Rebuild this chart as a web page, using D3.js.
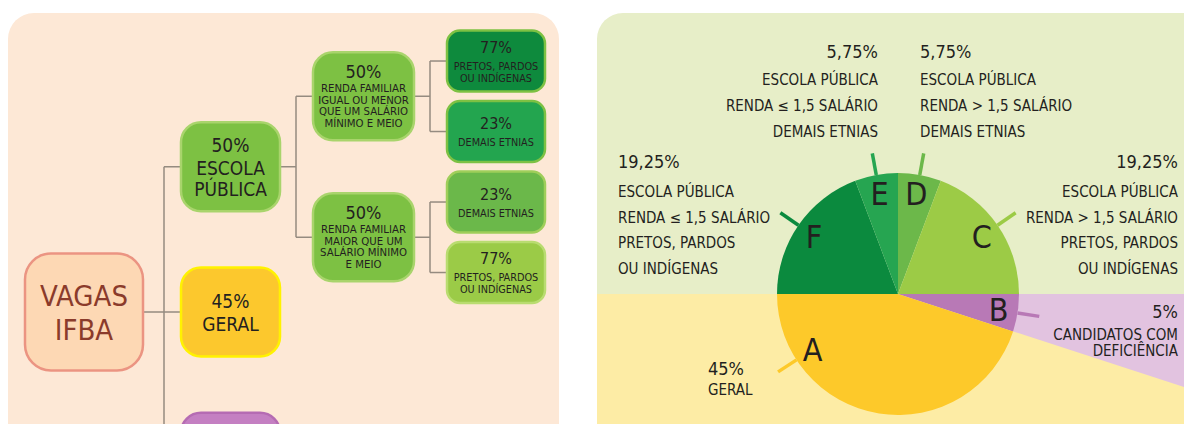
<!DOCTYPE html>
<html>
<head>
<meta charset="utf-8">
<script src="https://cdn.jsdelivr.net/npm/d3@7"></script>
<style>
body { margin: 0; background: #fff; }
svg { display: block; }
</style>
</head>
<body>
<svg width="1184" height="424"></svg>
<script>
// ---- data: tree of IFBA vacancies ----
let rootLabel = ["VAGAS", "IFBA"];
let quotaLabels = [
	["50%", "ESCOLA", "PÚBLICA"],
	["45%", "GERAL"],
	["5%", "CANDIDATOS COM", "DEFICIÊNCIA"]
];
let incomeLabels = [
	["50%", "RENDA FAMILIAR", "IGUAL OU MENOR", "QUE UM SALÁRIO", "MÍNIMO E MEIO"],
	["50%", "RENDA FAMILIAR", "MAIOR QUE UM", "SALÁRIO MÍNIMO", "E MEIO"]
];
let ethnicLabels = [
	[["77%", "PRETOS, PARDOS", "OU INDÍGENAS"], ["23%", "DEMAIS ETNIAS"]],
	[["23%", "DEMAIS ETNIAS"], ["77%", "PRETOS, PARDOS", "OU INDÍGENAS"]]
];

// ---- data: pie of the whole ----
let sliceKeys = ["D", "C", "B", "A", "F", "E"];
let sliceValues = [5.75, 19.25, 5, 45, 19.25, 5.75];
let slicePercents = ["5,75%", "19,25%", "5%", "45%", "19,25%", "5,75%"];
let sliceTexts = [
	["ESCOLA PÚBLICA", "RENDA > 1,5 SALÁRIO", "DEMAIS ETNIAS"],
	["ESCOLA PÚBLICA", "RENDA > 1,5 SALÁRIO", "PRETOS, PARDOS", "OU INDÍGENAS"],
	["CANDIDATOS COM", "DEFICIÊNCIA"],
	["GERAL"],
	["ESCOLA PÚBLICA", "RENDA ≤ 1,5 SALÁRIO", "PRETOS, PARDOS", "OU INDÍGENAS"],
	["ESCOLA PÚBLICA", "RENDA ≤ 1,5 SALÁRIO", "DEMAIS ETNIAS"]
];

let font = "'DejaVu Sans Condensed', 'Liberation Sans Narrow', 'DejaVu Sans', sans-serif";
let ink = "#231f20";

let svg = d3.select("svg");

// =============== left panel: tree ===============
svg.append("rect")
	.attr("x", 8).attr("y", 13).attr("width", 551).attr("height", 440)
	.attr("rx", 26).attr("fill", "#fde8d6");

let treeData = {
	label: rootLabel, kind: "root",
	children: quotaLabels.map((q, i) => ({
		label: q, kind: ["public", "general", "disabled"][i],
		children: i === 0 ? incomeLabels.map((inc, j) => ({
			label: inc, kind: "income",
			children: ethnicLabels[j].map((l, k) => ({label: l, kind: "eth" + j + k}))
		})) : undefined
	}))
};

let boxStyle = {
	root:     {fill: "#fdd8b4", stroke: "#eb9482"},
	public:   {fill: "#7dc143", stroke: "#a9d46c"},
	general:  {fill: "#fcc82d", stroke: "#fff200"},
	disabled: {fill: "#c47fc2", stroke: "#b56bb3"},
	income:   {fill: "#7dc143", stroke: "#a9d46c"},
	eth00:    {fill: "#0e8a3d", stroke: "#7dc143"},
	eth01:    {fill: "#23a54f", stroke: "#7dc143"},
	eth10:    {fill: "#6bb84a", stroke: "#9fce5a"},
	eth11:    {fill: "#9bcb47", stroke: "#b9dc70"}
};

// per depth: box geometry and text setup
let depthLeft = [25, 181, 313, 447];
let depthW = [118, 99, 101, 98];
let depthH = [117, 89, 88, 61];
let depthR = [26, 20, 20, 13];
let depthText = [
	{s0: 29, s1: 29, gap: 34, lh: 34, cap0: 21},
	{s0: 19, s1: 19, gap: 23, lh: 21, cap0: 14},
	{s0: 18, s1: 11.3, gap: 13.5, lh: 11.7, cap0: 13},
	{s0: 16, s1: 10.8, gap: 17, lh: 12, cap0: 12}
];

let root = d3.hierarchy(treeData);
d3.tree().nodeSize([70.5, 1])
	.separation((a, b) => a.depth === 1 ? 2.06 : 1)(root);

let y = d3.scaleLinear().domain([0, 1]).range([312, 313]);
root.each(d => { d.cy = y(d.x); });

let linkG = svg.append("g")
	.attr("fill", "none").attr("stroke", "#958b80").attr("stroke-width", 1.5);

root.each(d => {
	if (!d.children) return;
	let px = depthLeft[d.depth] + depthW[d.depth];
	let cl = depthLeft[d.depth + 1];
	let ex = cl - 17;
	let first = d.children[0].cy, last = d.children[d.children.length - 1].cy;
	linkG.append("path").attr("d", `M${px},${d.cy}H${ex}M${ex},${first}V${last}`);
	d.children.forEach(c => {
		linkG.append("path").attr("d", `M${ex},${c.cy}H${cl}`);
	});
});

let node = svg.append("g").selectAll("g").data(root.descendants()).join("g");

node.append("rect")
	.attr("x", d => depthLeft[d.depth])
	.attr("y", d => d.cy - depthH[d.depth] / 2)
	.attr("width", d => depthW[d.depth])
	.attr("height", d => depthH[d.depth])
	.attr("rx", d => depthR[d.depth])
	.attr("fill", d => boxStyle[d.data.kind].fill)
	.attr("stroke", d => boxStyle[d.data.kind].stroke)
	.attr("stroke-width", 2.5);

node.each(function(d) {
	let t = depthText[d.depth];
	let lines = d.data.label;
	let n = lines.length;
	let span = t.cap0 + (n > 1 ? t.gap + (n - 2) * t.lh : 0);
	let b0 = d.cy - span / 2 + t.cap0;
	let cx = depthLeft[d.depth] + depthW[d.depth] / 2;
	let g = d3.select(this);
	lines.forEach((line, i) => {
		g.append("text")
			.attr("x", cx)
			.attr("y", i === 0 ? b0 : b0 + t.gap + (i - 1) * t.lh)
			.attr("text-anchor", "middle")
			.attr("font-family", font)
			.attr("font-size", i === 0 ? t.s0 : (d.data.kind === "disabled" ? 13 : t.s1))
			.attr("fill", d.depth === 0 ? "#8b3b2b" : ink)
			.text(line);
	});
});

// =============== right panel: pie ===============
let cx = 898, cy = 294, radius = 121;
let sliceColors = {D: "#6cb84a", C: "#9ccb46", B: "#b879b6", A: "#fdc92a", F: "#0b8a3e", E: "#26a551"};

let pie = d3.pie().sort(null).value(d => d.value);
let slices = sliceKeys.map((k, i) => ({
	key: k, value: sliceValues[i], pct: slicePercents[i], text: sliceTexts[i]
}));
let arcs = pie(slices);

svg.append("clipPath").attr("id", "panel")
	.append("rect")
	.attr("x", 597).attr("y", 13).attr("width", 620).attr("height", 440).attr("rx", 26);

let bg = svg.append("g").attr("clip-path", "url(#panel)");
bg.append("rect").attr("x", 597).attr("y", 13).attr("width", 620).attr("height", cy - 13).attr("fill", "#e7eec8");
bg.append("rect").attr("x", 597).attr("y", cy).attr("width", 620).attr("height", 440).attr("fill", "#fdeca5");
let bArc = arcs.find(a => a.data.key === "B");
bg.append("path")
	.attr("transform", `translate(${cx},${cy})`)
	.attr("d", d3.arc().innerRadius(0).outerRadius(700)(bArc))
	.attr("fill", "#e2c3e0");

let pg = svg.append("g").attr("transform", `translate(${cx},${cy})`);
let arc = d3.arc().innerRadius(0).outerRadius(radius);

pg.selectAll("path.slice").data(arcs).join("path")
	.attr("class", "slice")
	.attr("d", arc)
	.attr("fill", d => sliceColors[d.data.key]);

// label angle: the middle of the slice, except A which points toward its label
let labelAngle = d => d.data.key === "A" ? 237 * Math.PI / 180 : (d.startAngle + d.endAngle) / 2;
let polar = (a, r) => [Math.sin(a) * r, -Math.cos(a) * r];

pg.selectAll("line.leader").data(arcs).join("line")
	.attr("class", "leader")
	.attr("x1", d => polar(labelAngle(d), radius)[0])
	.attr("y1", d => polar(labelAngle(d), radius)[1])
	.attr("x2", d => polar(labelAngle(d), radius + 22)[0])
	.attr("y2", d => polar(labelAngle(d), radius + 22)[1])
	.attr("stroke", d => sliceColors[d.data.key])
	.attr("stroke-width", 3.5);

pg.selectAll("text.letter").data(arcs).join("text")
	.attr("class", "letter")
	.attr("x", d => polar(labelAngle(d), 102)[0])
	.attr("y", d => polar(labelAngle(d), 102)[1])
	.attr("dy", "0.36em")
	.attr("text-anchor", "middle")
	.attr("font-family", font)
	.attr("font-size", 32)
	.attr("fill", ink)
	.text(d => d.data.key);

// text blocks beside the pie
let blockPos = {
	D: {x: 920, y: 58, anchor: "start", gap: 27, lh: 26, size: 15},
	C: {x: 1178, y: 168, anchor: "end", gap: 29, lh: 25.5, size: 15},
	B: {x: 1178, y: 318, anchor: "end", gap: 22, lh: 16, size: 15},
	A: {x: 708, y: 375, anchor: "start", gap: 20, lh: 20, size: 15},
	F: {x: 618, y: 168, anchor: "start", gap: 29, lh: 25.5, size: 15},
	E: {x: 878, y: 58, anchor: "end", gap: 27, lh: 26, size: 15}
};

let labels = svg.append("g").attr("font-family", font).attr("fill", ink);
arcs.forEach(d => {
	let p = blockPos[d.data.key];
	let g = labels.append("g").attr("text-anchor", p.anchor);
	g.append("text").attr("x", p.x).attr("y", p.y).attr("font-size", 18).text(d.data.pct);
	d.data.text.forEach((line, i) => {
		g.append("text")
			.attr("x", p.x)
			.attr("y", p.y + p.gap + i * p.lh)
			.attr("font-size", p.size)
			.text(line);
	});
});
</script>
</body>
</html>
